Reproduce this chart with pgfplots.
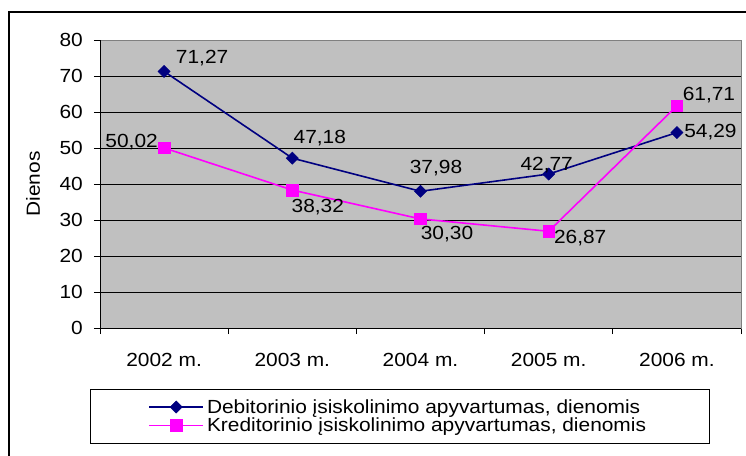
\documentclass[border=0pt]{standalone}
\usepackage{fontspec}
\setmainfont{Liberation Sans}[FakeStretch=1.1]
\usepackage{pgfplots}
\usepackage{pgfplotstable}
\pgfplotsset{compat=1.18}
\definecolor{navyc}{RGB}{0,0,128}
\definecolor{magc}{RGB}{255,0,255}
\definecolor{plotbg}{RGB}{192,192,192}
\newcommand{\cf}{\fontsize{19}{22}\selectfont}
\pgfplotstableread{
x y lbl dx dy
0 71.27 71,27 38 13
1 47.18 47,18 27.5 20
2 37.98 37,98 15.5 23
3 42.77 42,77 -2 9
4 54.29 54,29 33.5 0
}\debt
\pgfplotstableread{
x y lbl dx dy
0 50.02 50,02 -32.5 6
1 38.32 38,32 25.5 -17
2 30.30 30,30 26.5 -15
3 26.87 26,87 31.5 -7
4 61.71 61,71 32 11
}\kred
\begin{document}
\begin{tikzpicture}[x=1pt,y=1pt]
\useasboundingbox (0,0) rectangle (746,455);
\draw[black, line width=2pt] (9,-10) -- (9,443) -- (760,443);
\begin{axis}[
  at={(100pt,127pt)}, anchor=south west,
  scale only axis, width=641pt, height=288pt,
  xmin=-0.5, xmax=4.5, ymin=0, ymax=80,
  clip=false,
  axis background/.style={fill=plotbg},
  axis line style={draw=gray, line width=1pt},
  ytick={0,10,...,80},
  xtick={0,1,2,3,4},
  xticklabels={2002 m.,2003 m.,2004 m.,2005 m.,2006 m.},
  minor xtick={-0.5,0.5,1.5,2.5,3.5,4.5},
  tick pos=left,
  tick align=outside,
  major tick length=6pt,
  minor tick length=6pt,
  major x tick style={draw=none},
  every tick/.style={black, line width=1pt},
  ymajorgrids,
  grid style={black, line width=0.8pt},
  /pgf/number format/assume math mode=true,
  tick label style={font=\cf},
  yticklabel style={inner sep=0pt, anchor=east, xshift=-11pt},
  xticklabel style={anchor=center, yshift=-26pt},
  ylabel={Dienos},
  ylabel style={font=\cf, at={(axis description cs:-0.1045,0.5)}, anchor=center},
  legend style={at={(axis description cs:-0.0156,-0.2118)}, anchor=north west,
    draw=black, line width=0.8pt, font=\cf,
    inner xsep=58pt, inner ysep=9.5pt, row sep=2pt,
    nodes={inner xsep=3pt, inner ysep=0.5pt}},
  legend cell align=left,
  legend image code/.code={\draw[mark repeat=2,mark phase=2,#1] plot coordinates {(0pt,0pt) (27pt,0pt) (54pt,0pt)};},
]
\addplot[navyc, line width=1.6pt, mark=square*, mark size=4.3pt, mark options={rotate=45, fill=navyc, draw=navyc, line width=0.5pt},
  point meta=explicit symbolic,
  visualization depends on={\thisrow{dx} \as \mydx},
  visualization depends on={\thisrow{dy} \as \mydy},
  nodes near coords,
  every node near coord/.append style={font=\cf, text=black, anchor=center, xshift=\mydx, yshift=\mydy}]
  table[x=x, y=y, meta=lbl]{\debt};
\addlegendentry{\makebox[441pt][l]{Debitorinio įsiskolinimo apyvartumas, dienomis}}
\addplot[magc, line width=1.6pt, mark=square*, mark size=5.8pt, mark options={fill=magc, draw=magc, line width=0.5pt},
  point meta=explicit symbolic,
  visualization depends on={\thisrow{dx} \as \mydx},
  visualization depends on={\thisrow{dy} \as \mydy},
  nodes near coords,
  every node near coord/.append style={font=\cf, text=black, anchor=center, xshift=\mydx, yshift=\mydy}]
  table[x=x, y=y, meta=lbl]{\kred};
\addlegendentry{\makebox[441pt][l]{Kreditorinio įsiskolinimo apyvartumas, dienomis}}
\draw[black, line width=1pt] (rel axis cs:0,1) -- (rel axis cs:0,0) -- (rel axis cs:1,0);
\end{axis}
\end{tikzpicture}
\end{document}
